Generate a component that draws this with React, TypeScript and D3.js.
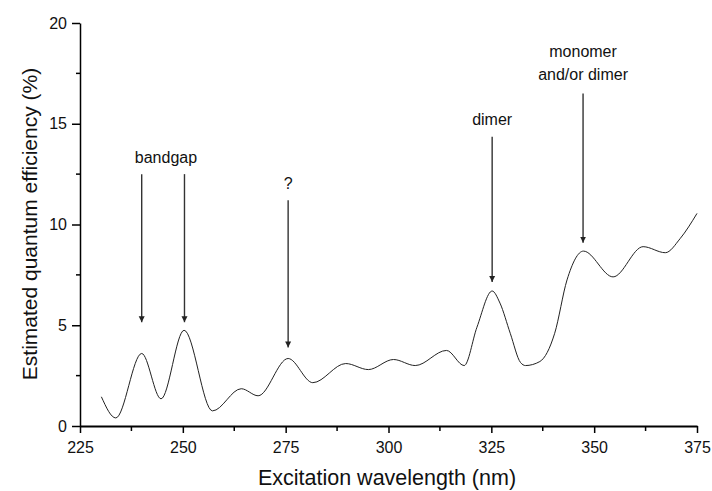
import React, { useRef, useEffect } from "react";
import * as d3 from "d3";

// excitation wavelength (nm) and estimated quantum efficiency (%)
const wavelengths = [
  230.2, 233.7, 240.0, 244.7, 250.3, 257.2, 264.2, 268.3, 275.6, 281.6,
  289.6, 295.1, 301.2, 306.5, 314.1, 318.4, 321.5, 325.2, 327.1, 329.6,
  332.1, 333.3, 336.8, 340.4, 343.4, 347.4, 354.6, 361.9, 367.3, 370.9, 375.0,
];
const efficiency = [
  1.45, 0.4, 3.6, 1.35, 4.75, 0.75, 1.85, 1.5, 3.35, 2.15,
  3.1, 2.8, 3.3, 3.0, 3.75, 3.0, 4.9, 6.7, 6.1, 4.6,
  3.15, 3.0, 3.2, 4.6, 7.25, 8.68, 7.4, 8.9, 8.6, 9.3, 10.55,
];

const xTicks = [225, 250, 275, 300, 325, 350, 375];
const yTicks = [0, 5, 10, 15, 20];

// annotation arrows: x (nm), top and tip (% units)
const arrowX = [240.0, 250.4, 275.6, 325.2, 347.3];
const arrowTop = [12.5, 12.5, 11.2, 14.35, 16.5];
const arrowTip = [5.15, 5.15, 3.9, 7.15, 9.1];

// annotation labels
const labelText = [["bandgap"], ["?"], ["dimer"], ["monomer", "and/or dimer"]];
const labelX = [245.9, 275.6, 325.2, 347.3];
const labelY = [13.05, 11.75, 14.95, 18.3];

const width = 712;
const height = 491;
const margin = { top: 23, right: 15, bottom: 65, left: 80 };
const font = "'Liberation Sans', Arial, sans-serif";

const App = () => {
  const svgRef = useRef<SVGSVGElement>(null);

  useEffect(() => {
    document.body.style.margin = "0";
    const svg = d3.select(svgRef.current);
    svg.selectAll("*").remove();

    const x = d3.scaleLinear().domain([225, 375]).range([margin.left, width - margin.right]);
    const y = d3.scaleLinear().domain([0, 20]).range([height - margin.bottom, margin.top]);

    svg.append("rect").attr("width", width).attr("height", height).attr("fill", "#fff");

    // x axis
    const xMinor = d3.range(237.5, 375, 25);
    const gx = svg.append("g").attr("transform", `translate(0,${y(0)})`);
    gx.call(d3.axisBottom(x).tickValues(xTicks).tickSize(7).tickSizeOuter(0).tickPadding(9))
      .call(g => g.select(".domain").attr("stroke-width", 2));
    gx.selectAll(".tick text").attr("font-size", 16).attr("font-family", font).attr("fill", "#111");
    gx.selectAll(".tick line").attr("stroke-width", 1.5);
    gx.selectAll(".minor").data(xMinor).enter().append("line")
      .attr("x1", d => x(d)).attr("x2", d => x(d)).attr("y1", 0).attr("y2", 5)
      .attr("stroke", "#000").attr("stroke-width", 1.5);

    // y axis
    const yMinor = d3.range(2.5, 20, 5);
    const gy = svg.append("g").attr("transform", `translate(${x(225)},0)`);
    gy.call(d3.axisLeft(y).tickValues(yTicks).tickSize(8).tickSizeOuter(0).tickPadding(5))
      .call(g => g.select(".domain").attr("stroke-width", 1.5));
    gy.selectAll(".tick text").attr("font-size", 16).attr("font-family", font).attr("fill", "#111");
    gy.selectAll(".tick line").attr("stroke-width", 1.5);
    gy.selectAll(".minor").data(yMinor).enter().append("line")
      .attr("y1", d => y(d)).attr("y2", d => y(d)).attr("x1", 0).attr("x2", -4)
      .attr("stroke", "#000").attr("stroke-width", 1.5);

    // axis titles
    svg.append("text")
      .attr("x", 387).attr("y", 485)
      .attr("text-anchor", "middle").attr("font-size", 21.5).attr("font-family", font).attr("fill", "#111")
      .text("Excitation wavelength (nm)");
    svg.append("text")
      .attr("transform", `translate(37,${224}) rotate(-90)`)
      .attr("text-anchor", "middle").attr("font-size", 21).attr("font-family", font).attr("fill", "#111")
      .text("Estimated quantum efficiency (%)");

    // curve
    const data = wavelengths.map((w, i) => [w, efficiency[i]] as [number, number]);
    const line = d3.line<[number, number]>()
      .x(d => x(d[0])).y(d => y(d[1]))
      .curve(d3.curveMonotoneX);
    svg.append("path").datum(data)
      .attr("fill", "none").attr("stroke", "#222").attr("stroke-width", 1)
      .attr("d", line);

    // arrows
    svg.append("defs").append("marker")
      .attr("id", "head").attr("viewBox", "0 0 10 10")
      .attr("refX", 10).attr("refY", 5)
      .attr("markerWidth", 6).attr("markerHeight", 9)
      .attr("markerUnits", "userSpaceOnUse")
      .attr("orient", "auto")
      .append("path").attr("d", "M0,0L10,5L0,10Z").attr("fill", "#222");

    arrowX.forEach((ax, i) => {
      svg.append("line")
        .attr("x1", x(ax)).attr("x2", x(ax))
        .attr("y1", y(arrowTop[i])).attr("y2", y(arrowTip[i]))
        .attr("stroke", "#333").attr("stroke-width", 1.4)
        .attr("marker-end", "url(#head)");
    });

    labelText.forEach((lines, i) => {
      const t = svg.append("text")
        .attr("x", x(labelX[i])).attr("y", y(labelY[i]))
        .attr("text-anchor", "middle").attr("font-size", 16).attr("font-family", font).attr("fill", "#111");
      lines.forEach((s, j) => {
        t.append("tspan").attr("x", x(labelX[i])).attr("dy", j === 0 ? 0 : 22.5).text(s);
      });
    });
  }, []);

  return <svg ref={svgRef} width={width} height={height} style={{ display: "block" }} />;
};

export default App;
